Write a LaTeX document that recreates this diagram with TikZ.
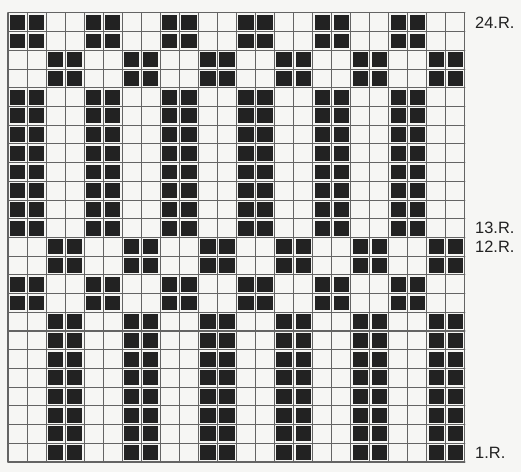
\documentclass[tikz,border=0pt]{standalone}
\usepackage{fontspec}
\setmainfont{Liberation Sans}
\usepackage{tikz}
\usetikzlibrary{calc}

\definecolor{chartInk}{RGB}{34,34,34}
\definecolor{chartLine}{RGB}{100,100,100}
\definecolor{chartPaper}{RGB}{246,246,244}

\begin{document}
\begin{tikzpicture}[x=0.03cm, y=0.03cm, line cap=round, line join=round]

% ---------------- styles ----------------
\tikzset{
  chartGrid/.style ={draw=chartLine, line width=0.9pt},
  chartDot/.style  ={fill=chartInk},
  rowLabel/.style  ={anchor=west, inner sep=0pt, text=chartInk,
                     font=\fontsize{14}{16}\selectfont}
}

% ---------------- parameters ----------------
\def\Gx{8}       % left edge of the chart
\def\Gy{10}      % bottom edge of the chart
\def\CW{19.04}   % cell width
\def\CH{18.71}   % cell height
\def\Ins{1.9}    % gap between black square and cell border
\def\N{24}       % cells per side

% paper + fixed page size
\path[fill=chartPaper] (0,0) rectangle (521,472);

% helper: one row of black pairs, #1 = row (1 = bottom), #2 = column offset (0 or 2)
\newcommand{\ChartRow}[2]{%
  \foreach \k in {0,...,5}{
    \foreach \j in {0,1}{
      \path[chartDot]
        ({\Gx+(4*\k+#2+\j)*\CW+\Ins}, {\Gy+(#1-1)*\CH+\Ins})
        rectangle ++({\CW-2*\Ins}, {\CH-2*\Ins});
    }
  }
}

% ---------------- black cells ----------------
\foreach \r in {1,2,3,4,5,6,7,8,11,12,21,22} {\ChartRow{\r}{2}}
\foreach \r in {9,10,13,14,15,16,17,18,19,20,23,24} {\ChartRow{\r}{0}}

% ---------------- grid ----------------
\foreach \i in {0,...,\N}{
  \draw[chartGrid] ({\Gx+\i*\CW}, \Gy) -- ({\Gx+\i*\CW}, {\Gy+\N*\CH});
  \draw[chartGrid] (\Gx, {\Gy+\i*\CH}) -- ({\Gx+\N*\CW}, {\Gy+\i*\CH});
}

% ---------------- row labels ----------------
\node[rowLabel] (r24) at (475, {\Gy+23.5*\CH}) {24.R.};
\node[rowLabel] (r13) at (475, {\Gy+12.5*\CH}) {13.R.};
\node[rowLabel] (r12) at (475, {\Gy+11.5*\CH}) {12.R.};
\node[rowLabel] (r1)  at (475, {\Gy+0.5*\CH})  {1.R.};

\end{tikzpicture}
\end{document}
